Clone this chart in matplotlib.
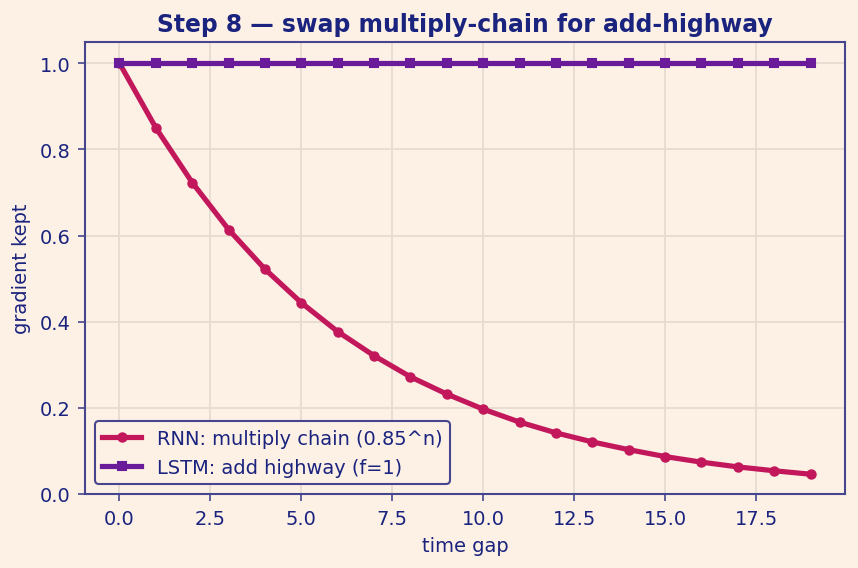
import matplotlib
matplotlib.use("Agg")
import matplotlib.pyplot as plt

time_gap = list(range(20))
rnn_kept = [1.0, 0.85, 0.723, 0.614, 0.522, 0.444, 0.377, 0.321, 0.272, 0.232,
            0.197, 0.167, 0.142, 0.121, 0.103, 0.087, 0.074, 0.063, 0.054, 0.046]
lstm_kept = [1.0] * 20

bg = "#fdf1e6"
navy = "#1a237e"
spine = "#46468f"

fig = plt.figure(figsize=(5.72, 3.793), dpi=150, facecolor=bg)
ax = fig.add_axes([0.099, 0.13, 0.886, 0.795])
ax.set_facecolor(bg)

ax.plot(time_gap, rnn_kept, color="#c2185b", lw=2.5, marker="o", ms=4,
        label="RNN: multiply chain (0.85^n)")
ax.plot(time_gap, lstm_kept, color="#6a1b9a", lw=2.5, marker="s", ms=4,
        label="LSTM: add highway (f=1)")

ax.set_ylim(0, 1.05)
ax.set_xlim(-0.95, 19.95)
ax.grid(True, color="#e6dcd2", lw=0.9)
ax.set_axisbelow(True)
for s in ax.spines.values():
    s.set_color(spine)
    s.set_linewidth(1.0)
ax.tick_params(colors=spine, labelcolor=navy, labelsize=9.3)
ax.set_xlabel("time gap", color=navy, fontsize=9.3)
ax.set_ylabel("gradient kept", color=navy, fontsize=9.3)
ax.set_title("Step 8 — swap multiply-chain for add-highway", color=navy,
             fontsize=11.3, fontweight="bold", pad=5)
leg = ax.legend(loc="lower left", fontsize=9.3, facecolor=bg, edgecolor=spine,
                framealpha=1, fancybox=True)
for t in leg.get_texts():
    t.set_color(navy)

fig.savefig("out.png", dpi=150, facecolor=bg)
